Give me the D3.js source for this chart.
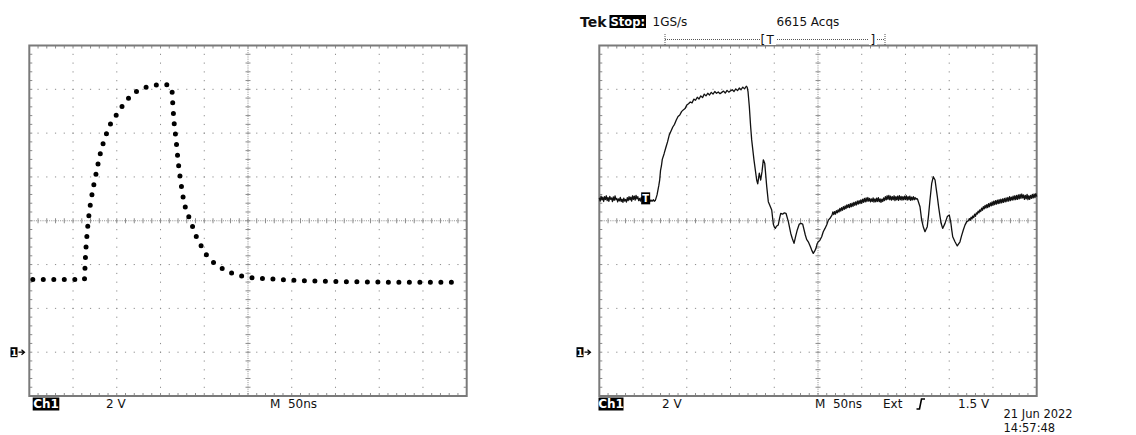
<!DOCTYPE html>
<html>
<head>
<meta charset="utf-8">
<script src="https://cdn.jsdelivr.net/npm/d3@7"></script>
<style>
  body { margin: 0; background: #fff; }
  text { font-family: "DejaVu Sans", sans-serif; }
</style>
</head>
<body>
<svg id="chart" width="1136" height="435"></svg>
<script>
// ---- Left screen: averaged pulse (ns, V) ----
const pulseTime = [4, 63, 63.6, 64.1, 65.7, 68, 71.4, 76, 80.9, 87.8, 92.3, 98.9, 105.7, 112.9, 122.1, 132.7, 144.2, 156.4, 162.9, 163.6, 165.2, 167.8, 170.1, 173.2, 177, 180.4, 185, 188.8, 194.2, 199.5, 206.7, 216.2, 226.5, 237.6, 249.4, 273.9, 310, 350, 400, 450, 494];
const pulseVolts = [3.32, 3.32, 3.8, 4.27, 5.23, 6.2, 7.13, 8.08, 9.02, 9.93, 10.38, 10.79, 11.2, 11.57, 11.89, 12.08, 12.19, 12.21, 12.08, 11.6, 10.64, 9.68, 8.73, 7.77, 6.83, 6.37, 5.93, 5.47, 5.03, 4.62, 4.24, 3.93, 3.69, 3.53, 3.43, 3.35, 3.27, 3.23, 3.2, 3.19, 3.19];

// ---- Right screen: single-shot trace (ns, V) ----
const traceTime = [
  0, 1, 2, 3, 4, 5, 6, 7, 8, 9, 10, 11, 12, 13, 14, 15, 16, 17, 18, 19, 20, 21, 22, 23, 24, 25, 26, 27, 28, 29, 30, 31, 32,
  33, 34, 35, 36, 37, 38, 39, 40, 41, 42, 43, 44, 45, 46, 47, 48, 49, 50, 51, 52, 53, 54, 55, 56, 57, 58, 59, 60, 61, 62, 63, 64,
  66, 68, 69, 70, 71, 72, 74, 76, 78, 80, 82, 84, 86, 88, 90, 92, 94, 96, 98, 100, 102, 104, 106, 108, 110, 112, 114, 116, 118, 120,
  122, 124, 126, 128, 130, 132, 134, 136, 138, 140, 142, 144, 146, 148, 150, 152, 154, 156, 158, 160, 162, 164, 166, 168, 169, 170,
  171.5, 173, 174.2, 176.8, 179.9, 181.1, 182.9, 184.5, 186, 187.5, 189.1, 191.4, 193.2, 195, 197.1, 198.9, 200, 201.2, 202.5, 204.6,
  206, 207.4, 209.6, 211.5, 213.4, 216.1, 218.8, 220.5, 222.6, 224.5, 226.3, 228.6, 230.5, 232.5, 235.5, 237, 238.9, 241, 242.8, 244.6,
  246, 247.7, 249, 250.3, 252, 254.2, 256, 258, 260, 261.8, 263.5,
  266, 267, 268, 269, 270, 271, 272, 273, 274, 275, 276, 277, 278, 279, 280, 281, 282, 283, 284, 285,
  286, 287, 288, 289, 290, 291, 292, 293, 294, 295, 296, 297, 298, 299, 300, 301, 302, 303, 304, 305,
  306, 307, 308, 309, 310, 311, 312, 313, 314, 315, 316, 317, 318, 319, 320, 321, 322, 323, 324, 325,
  326, 327, 328, 329, 330, 331, 332, 333, 334, 335, 336, 337, 338, 339, 340, 341, 342, 343, 344, 345,
  346, 347, 348, 349, 350, 351, 352, 353, 354, 355, 356, 357, 358, 359, 360, 361, 362, 363, 364,
  366.6, 368.5, 370.5, 372.3, 374.9, 376.5, 378, 380, 381.8, 383.8, 385, 386.4, 388, 389.5, 391, 392.5, 395.2, 397.8, 400.1, 401.7,
  403, 404, 406.6, 409.2, 412.3, 414, 416.1, 418, 420,
  422, 423, 424, 425, 426, 427, 428, 429, 430, 431, 432, 433, 434, 435, 436, 437, 438, 439, 440, 441,
  442, 443, 444, 445, 446, 447, 448, 449, 450, 451, 452, 453, 454, 455, 456, 457, 458, 459, 460, 461,
  462, 463, 464, 465, 466, 467, 468, 469, 470, 471, 472, 473, 474, 475, 476, 477, 478, 479, 480, 481,
  482, 483, 484, 485, 486, 487, 488, 489, 490, 491, 492, 493, 494, 495, 496, 497, 498, 499, 500
];
const traceVolts = [
  7.05, 6.9, 7.12, 6.95, 7.08, 6.88, 7.1, 6.97, 7.14, 6.92, 7.06, 6.89, 7.11, 6.98, 7.04, 6.87, 7.09, 6.93, 7.13, 6.96, 7.02, 6.86, 7.0, 6.91, 7.07, 6.88, 6.98, 6.84, 7.03, 6.9, 6.97, 6.85, 7.05,
  6.92, 7.1, 6.95, 7.08, 6.9, 7.14, 6.98, 7.12, 6.94, 7.16, 7.0, 7.1, 6.92, 7.02, 6.9, 7.06, 6.94, 7.0, 6.9, 7.04, 6.91, 6.99, 6.88, 6.97, 6.9, 6.95, 6.88, 6.94, 6.9, 6.96, 6.89, 6.92,
  7.18, 7.6, 7.85, 8.3, 8.5, 8.8, 9.05, 9.33, 9.6, 9.92, 10.1, 10.28, 10.4, 10.6, 10.76, 10.83, 10.98, 11.06, 11.12, 11.28, 11.34, 11.42, 11.38, 11.55, 11.5, 11.64, 11.56, 11.7, 11.62, 11.78,
  11.7, 11.82, 11.74, 11.86, 11.78, 11.9, 11.82, 11.88, 11.8, 11.86, 11.92, 11.83, 11.95, 11.87, 11.93, 11.98, 11.9, 12.02, 11.94, 12.06, 11.98, 12.1, 12.02, 12.14, 12.1, 11.9,
  11.21, 10.3, 9.69, 8.78, 7.86, 7.68, 8.17, 7.86, 8.24, 8.78, 8.63, 7.56, 6.87, 6.7, 6.49, 5.85, 5.72, 5.65, 5.75, 5.81,
  6.1, 6.34, 6.3, 6.36, 6.34, 5.96, 5.43, 5.2, 4.97, 5.3, 5.58, 5.85, 5.88, 5.85, 5.35, 5.15, 5.04, 4.85, 4.66, 4.51,
  4.6, 4.74, 4.95, 5.04, 5.1, 5.27, 5.5, 5.65, 5.82, 6.03, 6.1,
  6.26, 6.4, 6.28, 6.42, 6.3, 6.46, 6.36, 6.5, 6.4, 6.56, 6.44, 6.6, 6.48, 6.64, 6.52, 6.68, 6.55, 6.72, 6.6, 6.74,
  6.6, 6.78, 6.64, 6.8, 6.66, 6.84, 6.7, 6.86, 6.72, 6.9, 6.76, 6.92, 6.78, 6.95, 6.8, 6.98, 6.84, 7.02, 6.86, 7.04,
  6.88, 7.06, 6.9, 7.02, 6.86, 7.0, 6.88, 7.04, 6.85, 7.0, 6.86, 7.03, 6.88, 7.05, 6.87, 7.0, 6.84, 6.99, 6.88, 7.04,
  6.92, 7.1, 6.95, 7.14, 6.98, 7.16, 6.96, 7.12, 6.94, 7.1, 6.96, 7.14, 6.92, 7.1, 6.95, 7.12, 6.93, 7.15, 6.96, 7.11,
  6.94, 7.1, 6.95, 7.12, 6.97, 7.14, 6.94, 7.1, 6.96, 7.12, 6.93, 7.08, 6.95, 7.1, 6.96, 7.06, 6.98, 7.02, 6.96,
  6.64, 6.03, 5.7, 5.5, 5.73, 6.3, 6.95, 7.71, 8.01, 7.86, 7.5, 7.1, 6.6, 6.19, 5.85, 5.65, 5.88, 6.19, 6.26, 5.96,
  5.55, 5.27, 5.04, 4.85, 5.04, 5.3, 5.58, 5.8, 5.96,
  6.0, 6.1, 6.02, 6.16, 6.08, 6.22, 6.14, 6.3, 6.2, 6.36, 6.3, 6.44, 6.36, 6.5, 6.42, 6.58, 6.48, 6.64, 6.54, 6.7,
  6.58, 6.74, 6.6, 6.78, 6.64, 6.82, 6.68, 6.86, 6.7, 6.9, 6.74, 6.92, 6.76, 6.94, 6.78, 6.96, 6.8, 6.98, 6.82, 7.0,
  6.84, 7.02, 6.86, 7.04, 6.88, 7.06, 6.9, 7.1, 6.92, 7.08, 6.94, 7.12, 6.95, 7.14, 6.97, 7.16, 6.98, 7.18, 7.0, 7.2,
  7.02, 7.22, 7.04, 7.18, 6.98, 7.16, 7.0, 7.2, 6.96, 7.14, 6.98, 7.16, 7.02, 7.2, 7.04, 7.22, 7.06, 7.24, 7.1
];

// Trigger point marker on the right trace
const triggerTime = 53;
const triggerVolts = 7.0;

// Readout texts
const leftReadout = { ch: "Ch1", volts: "2 V", time: "M  50ns" };
const rightReadout = { ch: "Ch1", volts: "2 V", time: "M  50ns", src: "Ext", level: "1.5 V" };
const headerTexts = { brand: "Tek", state: "Stop:", rate: "1GS/s", acqs: "6615 Acqs" };
const stampLines = ["21 Jun 2022", "14:57:48"];

// Screen geometry: 10 x 8 divisions, 50 ns/div, 2 V/div, ground 3 div below centre
const W = 437.4, H = 350.5;
const screens = [{ x0: 29.3, y0: 45.5 }, { x0: 599.3, y0: 45.5 }];

const svg = d3.select("#chart");
const GRID = "#8c8c8c";

function makeScales(s) {
  return {
    x: d3.scaleLinear().domain([0, 500]).range([s.x0, s.x0 + W]),
    y: d3.scaleLinear().domain([-2, 14]).range([s.y0 + H, s.y0])
  };
}

function drawGraticule(sc) {
  const g = svg.append("g");
  const [xa, xb] = sc.x.range();
  const [yb, ya] = sc.y.range();
  const majorT = d3.range(50, 500, 50);
  const majorV = d3.range(0, 14, 2);
  const minorT = d3.range(10, 500, 10);
  const minorV = d3.range(-1.6, 14, 0.4);

  // dotted major lines (dots at minor divisions)
  majorT.filter(t => t !== 250).forEach(t => {
    g.selectAll(null).data(minorV).enter().append("rect")
      .attr("x", sc.x(t) - 0.5).attr("y", d => sc.y(d) - 0.5)
      .attr("width", 1).attr("height", 1.2).attr("fill", GRID);
  });
  majorV.filter(v => v !== 6).forEach(v => {
    g.selectAll(null).data(minorT).enter().append("rect")
      .attr("x", d => sc.x(d) - 0.6).attr("y", sc.y(v) - 0.5)
      .attr("width", 1.2).attr("height", 1).attr("fill", GRID);
  });

  // centre cross: fine dotted line with ticks at each minor division
  g.append("line").attr("x1", sc.x(250)).attr("x2", sc.x(250)).attr("y1", ya).attr("y2", yb)
    .attr("stroke", GRID).attr("stroke-width", 1).attr("stroke-dasharray", "1,1.2");
  g.append("line").attr("x1", xa).attr("x2", xb).attr("y1", sc.y(6)).attr("y2", sc.y(6))
    .attr("stroke", GRID).attr("stroke-width", 1).attr("stroke-dasharray", "1,1.2");
  g.selectAll(null).data(minorV).enter().append("line")
    .attr("x1", sc.x(250) - 2.5).attr("x2", sc.x(250) + 2.5)
    .attr("y1", d => sc.y(d)).attr("y2", d => sc.y(d))
    .attr("stroke", GRID).attr("stroke-width", 1);
  g.selectAll(null).data(minorT).enter().append("line")
    .attr("y1", sc.y(6) - 2.5).attr("y2", sc.y(6) + 2.5)
    .attr("x1", d => sc.x(d)).attr("x2", d => sc.x(d))
    .attr("stroke", GRID).attr("stroke-width", 1);

  // border ticks
  minorT.forEach(t => {
    g.append("line").attr("x1", sc.x(t)).attr("x2", sc.x(t)).attr("y1", ya).attr("y2", ya + 3)
      .attr("stroke", GRID).attr("stroke-width", 1);
    g.append("line").attr("x1", sc.x(t)).attr("x2", sc.x(t)).attr("y1", yb).attr("y2", yb - 3)
      .attr("stroke", GRID).attr("stroke-width", 1);
  });
  minorV.forEach(v => {
    g.append("line").attr("x1", xa).attr("x2", xa + 3).attr("y1", sc.y(v)).attr("y2", sc.y(v))
      .attr("stroke", GRID).attr("stroke-width", 1);
    g.append("line").attr("x1", xb).attr("x2", xb - 3).attr("y1", sc.y(v)).attr("y2", sc.y(v))
      .attr("stroke", GRID).attr("stroke-width", 1);
  });

  // frame
  g.append("rect").attr("x", xa).attr("y", ya).attr("width", xb - xa).attr("height", yb - ya)
    .attr("fill", "none").attr("stroke", "#7a7a7a").attr("stroke-width", 2);
}

function invertedLabel(x, yTop, w, h, label, size) {
  svg.append("rect").attr("x", x).attr("y", yTop).attr("width", w).attr("height", h).attr("fill", "#000");
  svg.append("text").attr("x", x + w / 2).attr("y", yTop + h - 2.5).attr("text-anchor", "middle")
    .attr("fill", "#fff").attr("font-weight", "bold").attr("font-size", size).text(label);
}

function label(x, y, txt, size, extra) {
  const t = svg.append("text").attr("x", x).attr("y", y).attr("font-size", size || 12).attr("fill", "#111").text(txt);
  if (extra) extra(t);
  return t;
}

function groundMarker(sc, xLeft) {
  const y0 = sc.y(0);
  svg.append("rect").attr("x", xLeft).attr("y", y0 - 5).attr("width", 7).attr("height", 10).attr("fill", "#000");
  svg.append("text").attr("x", xLeft + 3.5).attr("y", y0 + 3.5).attr("text-anchor", "middle")
    .attr("font-size", 9.5).attr("font-weight", "bold").attr("fill", "#fff").text("1");
  svg.append("path").attr("d", `M${xLeft + 8},${y0} H${xLeft + 13} M${xLeft + 11},${y0 - 2.5} L${xLeft + 14},${y0} L${xLeft + 11},${y0 + 2.5}`)
    .attr("stroke", "#000").attr("stroke-width", 1.2).attr("fill", "none");
}

// ---------- left screen ----------
const L = makeScales(screens[0]);
drawGraticule(L);
const pulse = d3.zip(pulseTime, pulseVolts);
svg.append("path")
  .attr("d", d3.line().x(d => L.x(d[0])).y(d => L.y(d[1])).curve(d3.curveMonotoneX)(pulse))
  .attr("fill", "none").attr("stroke", "#000").attr("stroke-width", 5)
  .attr("stroke-linecap", "round").attr("stroke-dasharray", "0 10.5");
groundMarker(L, 10.5);
invertedLabel(32.7, 397.5, 26.6, 13, leftReadout.ch, 12);
label(106, 408, leftReadout.volts, 12);
label(270, 408, leftReadout.time, 12, t => t.attr("xml:space", "preserve"));

// ---------- right screen ----------
const R = makeScales(screens[1]);
drawGraticule(R);
const trace = d3.zip(traceTime, traceVolts);
svg.append("path")
  .attr("d", d3.line().x(d => R.x(d[0])).y(d => R.y(d[1]))(trace))
  .attr("fill", "none").attr("stroke", "#111").attr("stroke-width", 1.3).attr("stroke-linejoin", "round");

// trigger marker on trace
svg.append("rect").attr("x", R.x(triggerTime) - 4.5).attr("y", R.y(triggerVolts) - 6.5)
  .attr("width", 9).attr("height", 12).attr("fill", "#000");
svg.append("text").attr("x", R.x(triggerTime)).attr("y", R.y(triggerVolts) + 3.5).attr("text-anchor", "middle")
  .attr("font-size", 10).attr("font-weight", "bold").attr("fill", "#fff").text("T");

groundMarker(R, 576.5);
invertedLabel(598.5, 397.5, 25, 13, rightReadout.ch, 12);
label(662, 408, rightReadout.volts, 12);
label(815, 408, rightReadout.time, 12, t => t.attr("xml:space", "preserve"));
label(883, 408, rightReadout.src, 12);
// rising-edge trigger slope symbol
svg.append("path").attr("d", "M916.5,409 H919.5 L921.5,399 H925")
  .attr("stroke", "#000").attr("stroke-width", 1.6).attr("fill", "none");
label(958, 408, rightReadout.level, 12);

// header
label(580, 26.5, headerTexts.brand, 14, t => t.attr("font-weight", "bold"));
invertedLabel(609.5, 15, 36.5, 13, headerTexts.state, 11.5);
label(652.5, 26, headerTexts.rate, 12);
label(776.5, 26, headerTexts.acqs, 12);

// record-position bracket
svg.append("line").attr("x1", 665).attr("x2", 885).attr("y1", 39.5).attr("y2", 39.5)
  .attr("stroke", "#555").attr("stroke-width", 1).attr("stroke-dasharray", "1,1");
[665, 885].forEach(x => svg.append("line").attr("x1", x).attr("x2", x).attr("y1", 34).attr("y2", 45)
  .attr("stroke", "#555").attr("stroke-width", 1).attr("stroke-dasharray", "1,1"));
svg.append("rect").attr("x", 760).attr("y", 33).attr("width", 16).attr("height", 12).attr("fill", "#fff");
svg.append("rect").attr("x", 869).attr("y", 33).attr("width", 8).attr("height", 12).attr("fill", "#fff");
label(760.5, 43.5, "[", 12);
label(766.5, 43.5, "T", 12);
label(870.5, 43.5, "]", 12);

// date/time stamp
label(1003.5, 418, stampLines[0], 11.5);
label(1003.5, 432, stampLines[1], 11.5);
</script>
</body>
</html>
